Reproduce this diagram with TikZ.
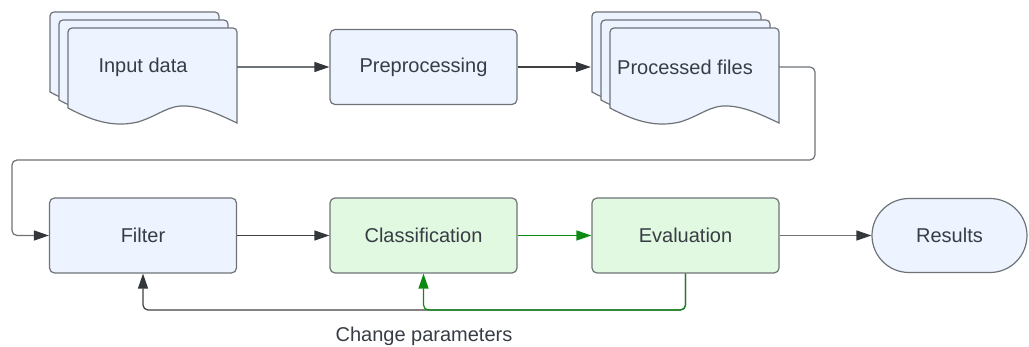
\documentclass[tikz,border=0pt]{standalone}
\usepackage{fontspec}
\setmainfont{Liberation Sans}
\usetikzlibrary{arrows.meta}
\definecolor{boxblue}{HTML}{EDF4FF}
\definecolor{boxgreen}{HTML}{E2F9E1}
\definecolor{edgegray}{HTML}{6E7378}
\definecolor{tipgray}{HTML}{33373C}
\definecolor{txtgray}{HTML}{373D45}
\definecolor{flowgreen}{HTML}{0C8A14}
% one page of a stacked document: #1,#2 = top left corner
\newcommand{\docpage}[2]{%
  \draw[page] (#1,#2+80) [rounded corners=4] -- (#1,#2) -- (#1+169,#2) [sharp corners] -- (#1+169,#2+95)
    .. controls (#1+150,#2+86) and (#1+135,#2+79) .. (#1+118,#2+78)
    .. controls (#1+100,#2+77) and (#1+92,#2+87) .. (#1+70,#2+94)
    .. controls (#1+48,#2+99) and (#1+28,#2+95) .. cycle;}
\begin{document}
\begin{tikzpicture}[x=1pt,y=-1pt,
    font=\fontsize{20}{24}\selectfont, text=txtgray,
    page/.style={draw=edgegray, line width=1.2pt, fill=boxblue},
    doctext/.style={minimum width=188pt, minimum height=80pt},
    procbox/.style={draw=edgegray, line width=1.2pt, rounded corners=5pt, minimum width=187pt, minimum height=75pt},
    bluebox/.style={procbox, fill=boxblue},
    greenbox/.style={procbox, fill=boxgreen},
    flow/.style={draw=#1, line width=1.2pt, rounded corners=5pt, -{Triangle[length=15pt,width=10pt,color=tipgray]}},
    flow/.default={black!75},
    greenflow/.style={draw=flowgreen, line width=1.2pt, rounded corners=5pt, -{Triangle[length=15pt,width=10pt]}}]
  \useasboundingbox (0,0) rectangle (1029,347);
  \def\rowa{67}   % top row
  \def\rowb{235.5} % bottom row
  \def\back{310}  % feedback line
  % stacked documents
  \foreach \i in {0,1,2} {\docpage{50+9*\i}{12+8*\i}}
  \foreach \i in {0,1,2} {\docpage{592+9*\i}{12+8*\i}}
  \node[doctext] (input) at (143,\rowa) {Input data};
  \node[doctext] (processed) at (685,\rowa) {Processed files};
  \node[bluebox] (prep) at (423.5,\rowa) {Preprocessing};
  % bottom row
  \node[bluebox] (filter) at (143,\rowb) {Filter};
  \node[greenbox] (classif) at (423.5,\rowb) {Classification};
  \node[greenbox] (eval) at (685.5,\rowb) {Evaluation};
  \node[draw=edgegray, line width=1.2pt, fill=boxblue, rounded corners=37pt,
        minimum width=155pt, minimum height=74pt] (results) at (949.5,\rowb) {Results};
  \coordinate (turn) at (685.5,\back);
  % connectors
  \draw[flow=edgegray] (input.east) -- (prep.west);
  \draw[flow] (prep.east) -- (processed.west);
  \draw[flow=edgegray] (processed.east) -- (815,\rowa) -- (815,160) -- (12,160) -- (12,\rowb) -- (filter.west);
  \draw[flow] (filter) -- (classif);
  \draw[greenflow] (classif) -- (eval);
  \draw[flow=edgegray] (eval) -- (results);
  \draw[flow] (eval.south) -- (turn) -- (filter.south |- turn) -- (filter.south);
  \draw[greenflow] (eval.south) -- (turn) -- (classif.south |- turn) -- (classif.south);
  \node (change) at (424,336) {Change parameters};
\end{tikzpicture}
\end{document}
